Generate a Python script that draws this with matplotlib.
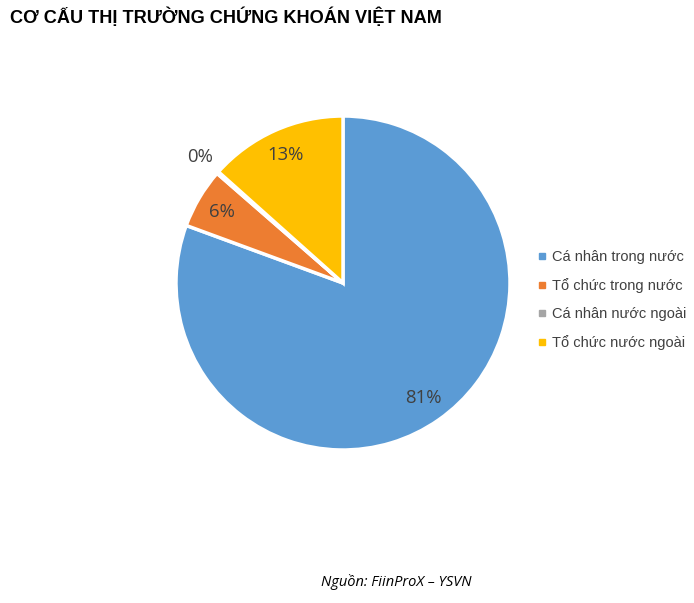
import matplotlib
matplotlib.use("Agg")
import matplotlib.pyplot as plt
from matplotlib.lines import Line2D
import numpy as np

title = "CƠ CẤU THỊ TRƯỜNG CHỨNG KHOÁN VIỆT NAM"
categories = ["Cá nhân trong nước", "Tổ chức trong nước", "Cá nhân nước ngoài", "Tổ chức nước ngoài"]
shares = [80.6, 5.8, 0.2, 13.4]
colors = ["#5B9BD5", "#ED7D31", "#A5A5A5", "#FFC000"]
source = "Nguồn: FiinProX – YSVN"

W, H = 694, 603
fig = plt.figure(figsize=(W / 100, H / 100), dpi=100)

cx, cy, r = 343, 283, 167
ax = fig.add_axes([(cx - r) / W, (H - cy - r) / H, 2 * r / W, 2 * r / H])
wedges, texts, autotexts = ax.pie(
    shares, colors=colors, startangle=90, counterclock=False,
    autopct=lambda p: f"{p:.0f}%", pctdistance=0.84,
    wedgeprops=dict(edgecolor="white", linewidth=2.5),
    textprops=dict(fontsize=13.3, color="#404040", family="Open Sans"),
)
# Tiny slice: put its label outside the pie
w = wedges[2]
ang = np.deg2rad((w.theta1 + w.theta2) / 2)
autotexts[2].set_position((1.14 * np.cos(ang), 1.14 * np.sin(ang)))
ax.set_xlim(-1, 1)
ax.set_ylim(-1, 1)
ax.set_aspect("equal")
ax.axis("off")

handles = [Line2D([0], [0], marker="s", linestyle="none", markersize=4.5,
                  markerfacecolor=c, markeredgecolor=c) for c in colors]
fig.legend(handles, categories, loc="center left", bbox_to_anchor=(524 / W, 1 - 300 / H),
           frameon=False, handlelength=0.6, handletextpad=0.4, labelspacing=0.95,
           prop=dict(family="Liberation Sans", size=10.5), labelcolor="#404040")

fig.text(10 / W, 1 - 17 / H, title, fontsize=13.1, fontweight="bold",
         family="Liberation Sans", va="center", ha="left", color="black")
fig.text(396 / W, 1 - 582 / H, source, fontsize=10.5, style="italic",
         family="Open Sans", va="center", ha="center", color="black")

fig.savefig("out.png", dpi=100)
